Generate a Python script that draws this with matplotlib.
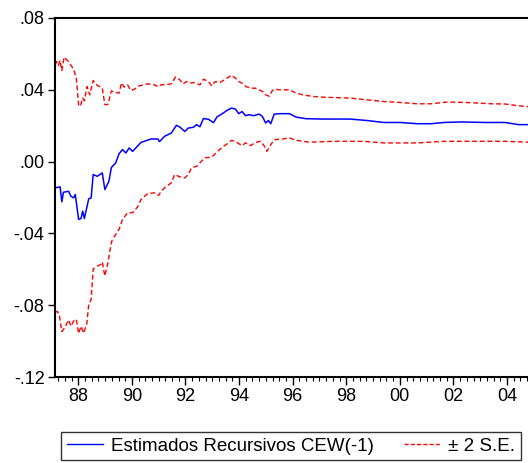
import matplotlib
matplotlib.use("Agg")
import matplotlib.pyplot as plt
from matplotlib.ticker import FixedLocator, MultipleLocator, FuncFormatter
from matplotlib.lines import Line2D

plt.rcParams['font.family'] = ['Liberation Sans', 'DejaVu Sans']

# Recursive coefficient estimate of CEW(-1)
coef_t = [1987.132, 1987.321, 1987.385, 1987.445, 1987.634, 1987.725, 1987.823, 1987.887,
          1988.011, 1988.102, 1988.162, 1988.226, 1988.389, 1988.479, 1988.555, 1988.706,
          1988.894, 1988.992, 1989.143, 1989.234, 1989.396, 1989.521, 1989.649, 1989.774,
          1989.898, 1990.026, 1990.340, 1990.717, 1990.970, 1991.030, 1991.219, 1991.472,
          1991.660, 1991.785, 1991.974, 1992.102, 1992.291, 1992.415, 1992.540, 1992.668,
          1992.857, 1993.045, 1993.170, 1993.423, 1993.547, 1993.717, 1993.860, 1993.989,
          1994.113, 1994.238, 1994.366, 1994.555, 1994.743, 1994.868, 1994.992, 1995.094,
          1995.181, 1995.309, 1995.498, 1995.875, 1996.125, 1996.502, 1997.132, 1998.140,
          1998.766, 1999.396, 2000.026, 2000.653, 2001.158, 2001.660, 2002.291, 2003.170,
          2003.925, 2004.426, 2004.981]
coef_v = [-0.0146, -0.0141, -0.0224, -0.0171, -0.0165, -0.0193, -0.0202, -0.0183,
          -0.0322, -0.0317, -0.0276, -0.0317, -0.0207, -0.0202, -0.0072, -0.0082,
          -0.0063, -0.0156, -0.0109, -0.0033, -0.0007, 0.0044, 0.0067, 0.0048,
          0.0076, 0.0057, 0.0107, 0.0126, 0.0126, 0.0111, 0.0141, 0.0159,
          0.0202, 0.0193, 0.0168, 0.0187, 0.0191, 0.0206, 0.0194, 0.0240,
          0.0236, 0.0217, 0.0248, 0.0272, 0.0285, 0.0298, 0.0293, 0.0267,
          0.0279, 0.0256, 0.0261, 0.0256, 0.0265, 0.0252, 0.0215, 0.0229,
          0.0211, 0.0264, 0.0267, 0.0267, 0.0248, 0.0239, 0.0237, 0.0237,
          0.0229, 0.0218, 0.0218, 0.0211, 0.0211, 0.0218, 0.0221, 0.0218,
          0.0218, 0.0206, 0.0206]

# Upper band (+2 S.E.)
upper_t = [1987.132, 1987.196, 1987.257, 1987.321, 1987.385, 1987.472, 1987.634, 1987.762,
           1987.849, 1987.925, 1988.011, 1988.075, 1988.162, 1988.226, 1988.328, 1988.426,
           1988.555, 1988.706, 1988.894, 1988.992, 1989.106, 1989.234, 1989.358, 1989.521,
           1989.611, 1989.709, 1989.838, 1989.962, 1990.087, 1990.275, 1990.592, 1990.842,
           1990.970, 1991.094, 1991.219, 1991.472, 1991.623, 1991.785, 1991.913, 1992.038,
           1992.162, 1992.291, 1992.415, 1992.540, 1992.668, 1992.857, 1992.981, 1993.106,
           1993.294, 1993.483, 1993.717, 1993.860, 1993.989, 1994.113, 1994.264, 1994.426,
           1994.615, 1994.743, 1994.868, 1994.992, 1995.121, 1995.245, 1995.347, 1995.498,
           1995.875, 1996.125, 1996.377, 1996.755, 1997.132, 1998.140, 1998.766, 1999.396,
           2000.026, 2000.653, 2001.158, 2001.785, 2002.540, 2003.423, 2003.925, 2004.426,
           2004.981]
upper_v = [0.0539, 0.0557, 0.0536, 0.0563, 0.0507, 0.0582, 0.0557, 0.0529,
           0.0502, 0.0465, 0.0317, 0.0307, 0.0354, 0.0339, 0.0418, 0.0372,
           0.0452, 0.0425, 0.0409, 0.0317, 0.0319, 0.0394, 0.0385, 0.0382,
           0.0439, 0.0415, 0.0428, 0.0396, 0.0403, 0.0422, 0.0433, 0.0428,
           0.0417, 0.0428, 0.0428, 0.0433, 0.0471, 0.0456, 0.0433, 0.0446,
           0.0437, 0.0441, 0.0433, 0.0428, 0.0459, 0.0446, 0.0422, 0.0446,
           0.0441, 0.0459, 0.0481, 0.0465, 0.0446, 0.0437, 0.0418, 0.0409,
           0.0409, 0.0400, 0.0391, 0.0372, 0.0364, 0.0396, 0.0404, 0.0400,
           0.0400, 0.0382, 0.0372, 0.0363, 0.0359, 0.0354, 0.0344, 0.0335,
           0.0329, 0.0322, 0.0322, 0.0332, 0.0329, 0.0322, 0.0321, 0.0311,
           0.0304]

# Lower band (-2 S.E.)
lower_t = [1987.132, 1987.219, 1987.294, 1987.385, 1987.509, 1987.634, 1987.725, 1987.823,
           1987.925, 1988.011, 1988.102, 1988.200, 1988.321, 1988.389, 1988.434, 1988.479,
           1988.555, 1988.706, 1988.842, 1988.894, 1988.989, 1989.094, 1989.219, 1989.272,
           1989.396, 1989.521, 1989.649, 1989.838, 1990.026, 1990.215, 1990.340, 1990.592,
           1990.842, 1990.992, 1991.094, 1991.219, 1991.472, 1991.596, 1991.785, 1991.974,
           1992.102, 1992.226, 1992.415, 1992.604, 1992.728, 1992.981, 1993.170, 1993.396,
           1993.509, 1993.717, 1993.860, 1993.989, 1994.113, 1994.238, 1994.426, 1994.615,
           1994.804, 1994.932, 1995.038, 1995.143, 1995.309, 1995.623, 1995.875, 1996.151,
           1996.630, 1997.509, 1998.642, 1999.396, 2000.653, 2001.660, 2002.540, 2003.925,
           2004.981]
lower_v = [-0.0841, -0.0834, -0.0856, -0.0947, -0.0922, -0.0882, -0.0917, -0.0889,
           -0.0878, -0.0958, -0.0917, -0.0956, -0.0900, -0.0794, -0.0783, -0.0767,
           -0.0598, -0.0583, -0.0572, -0.0559, -0.0637, -0.0572, -0.0461, -0.0433,
           -0.0406, -0.0378, -0.0322, -0.0285, -0.0285, -0.0252, -0.0211, -0.0178,
           -0.0174, -0.0189, -0.0165, -0.0146, -0.0118, -0.0072, -0.0085, -0.0091,
           -0.0072, -0.0035, -0.0026, 0.0003, 0.0021, 0.0025, 0.0053, 0.0083,
           0.0094, 0.0118, 0.0113, 0.0100, 0.0089, 0.0104, 0.0089, 0.0107,
           0.0113, 0.0089, 0.0057, 0.0085, 0.0122, 0.0126, 0.0132, 0.0118,
           0.0108, 0.0113, 0.0113, 0.0104, 0.0104, 0.0113, 0.0113, 0.0113,
           0.0107]

y_ticks = [-0.12, -0.08, -0.04, 0.00, 0.04, 0.08]
x_major = list(range(1988, 2005, 2))

FS = 13

fig = plt.figure(figsize=(5.28, 4.63), dpi=100)
ax = fig.add_axes([55 / 528, 1 - 377 / 463, 1 - 55 / 528 + 0.01, (377 - 18) / 463])

ax.plot(coef_t, coef_v, color='#0000ff', lw=1.1)
ax.plot(upper_t, upper_v, color='#ff0000', lw=1.0, dashes=(3.5, 2))
ax.plot(lower_t, lower_v, color='#ff0000', lw=1.0, dashes=(3.5, 2))

ax.set_xlim(1987.13, 2004.98)
ax.set_ylim(-0.12, 0.08)

ax.yaxis.set_major_locator(FixedLocator(y_ticks))
ax.yaxis.set_major_formatter(FuncFormatter(
    lambda v, p: ('-' if v < -1e-9 else '') + ('%.2f' % abs(v))[1:]))
ax.xaxis.set_major_locator(FixedLocator(x_major))
ax.xaxis.set_minor_locator(MultipleLocator(0.25))
ax.xaxis.set_major_formatter(FuncFormatter(lambda v, p: '%02d' % (int(round(v)) % 100)))

ax.tick_params(axis='y', which='major', direction='out', length=5, width=1,
               labelsize=FS, pad=2.5)
ax.tick_params(axis='x', which='major', direction='out', length=6, width=1,
               labelsize=FS, pad=2)
ax.tick_params(axis='x', which='minor', direction='out', length=3, width=0.8)

for side in ('left', 'bottom', 'top'):
    ax.spines[side].set_linewidth(1.5)
ax.spines['right'].set_visible(False)

handles = [Line2D([], [], color='#0000ff', lw=1.0),
           Line2D([], [], color='#ff0000', lw=1.0, dashes=(3, 1.5))]
leg = fig.legend(handles, ['Estimados Recursivos CEW(-1)', '± 2 S.E.'],
                 loc='center', bbox_to_anchor=(291 / 528, 1 - 446 / 463), ncol=2,
                 fontsize=13.5, frameon=True, fancybox=False, handlelength=1.9,
                 columnspacing=1.6, handletextpad=0.45, borderpad=0.3,
                 borderaxespad=0)
leg.get_frame().set_edgecolor('black')
leg.get_frame().set_linewidth(1.0)

fig.savefig('out.png', dpi=100)
